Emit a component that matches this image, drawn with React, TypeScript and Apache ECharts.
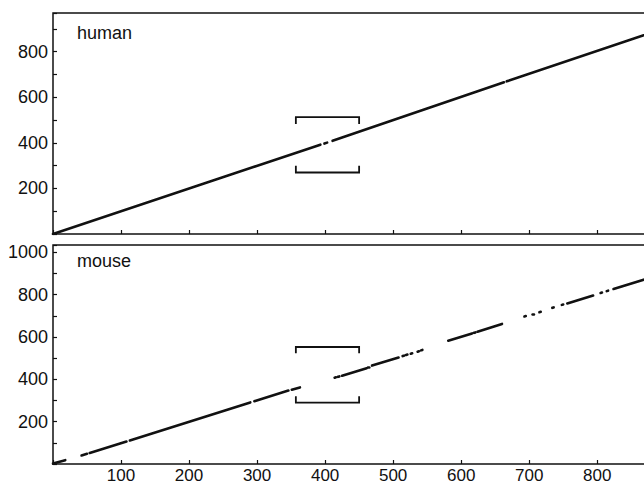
import React, { useEffect, useRef } from 'react';
import * as echarts from 'echarts';

// Panel names
const panelNames = ['human', 'mouse'];

// Axis ranges / ticks
const xMax = 882;
const humanYMax = 970;
const mouseYMax = 1035;
const tickStep = 100;
const xLabelValues = [100, 200, 300, 400, 500, 600, 700, 800];
const humanYLabelValues = [200, 400, 600, 800];
const mouseYLabelValues = [200, 400, 600, 800, 1000];

// Dot-plot segments: [x1, y1, x2, y2]
const humanSegments = [
  [0, 0, 393, 392],
  [399, 397, 403, 401],
  [411, 409, 663, 666],
  [667, 670, 882, 886],
];

const mouseSegments = [
  [0, 2, 18, 18],
  [42, 40, 50, 48],
  [54, 52, 108, 106],
  [113, 111, 290, 291],
  [296, 297, 346, 347],
  [351, 351, 363, 362],
  [414, 408, 416, 410],
  [419, 412, 421, 414],
  [425, 417, 461, 452],
  [463, 455, 465, 457],
  [469, 465, 508, 503],
  [514, 510, 516, 512],
  [519, 515, 521, 517],
  [526, 521, 528, 523],
  [536, 531, 538, 533],
  [541, 537, 543, 539],
  [581, 583, 616, 617],
  [619, 620, 621, 622],
  [624, 625, 660, 662],
  [693, 697, 695, 699],
  [705, 708, 707, 710],
  [715, 717, 717, 719],
  [734, 738, 736, 740],
  [748, 752, 750, 754],
  [756, 759, 794, 796],
  [805, 808, 807, 810],
  [814, 817, 816, 819],
  [824, 827, 882, 884],
];

// Brackets: x span, [lower, upper] y, tick length
const bracketX = [357, 450];
const humanBracketY = [270, 513];
const mouseBracketY = [290, 553];
const bracketTick = 30;

function segData(segs: number[][]) {
  return segs.map((s) => ({ coords: [[s[0], s[1]], [s[2], s[3]]] }));
}

function bracketData(xs: number[], ys: number[], t: number) {
  return [
    { coords: [[xs[0], ys[1] - t], [xs[0], ys[1]], [xs[1], ys[1]], [xs[1], ys[1] - t]] },
    { coords: [[xs[0], ys[0] + t], [xs[0], ys[0]], [xs[1], ys[0]], [xs[1], ys[0] + t]] },
  ];
}

const FONT = '"Liberation Sans", Arial, Helvetica, sans-serif';
const INK = '#111';

export default function App() {
  const ref = useRef<HTMLDivElement>(null);
  useEffect(() => {
    if (!ref.current) return;
    const chart = echarts.init(ref.current, null, { renderer: 'svg' });
    const xAxisBase = (gridIndex: number, showLabels: boolean) => ({
      type: 'value',
      gridIndex,
      min: 0,
      max: xMax,
      interval: tickStep,
      axisLine: { show: false },
      axisTick: { show: true, inside: true, length: 4, lineStyle: { color: INK, width: 1.2 } },
      splitLine: { show: false },
      axisLabel: {
        show: showLabels,
        color: INK,
        fontFamily: FONT,
        fontSize: 17,
        lineHeight: 16,
        margin: 3,
        formatter: (v: number) => (xLabelValues.includes(v) ? String(v) : ''),
      },
    });
    const yAxisBase = (gridIndex: number, max: number, labels: number[]) => ({
      type: 'value',
      gridIndex,
      min: 0,
      max,
      interval: tickStep,
      axisLine: { show: false },
      axisTick: { show: true, inside: true, length: 4, lineStyle: { color: INK, width: 1.2 } },
      splitLine: { show: false },
      axisLabel: {
        color: INK,
        fontFamily: FONT,
        fontSize: 18,
        margin: 5,
        formatter: (v: number) => (labels.includes(v) ? String(v) : ''),
      },
    });
    const gridStyle = {
      show: true,
      borderColor: INK,
      borderWidth: 1.5,
      backgroundColor: 'transparent',
      containLabel: false,
      outerBoundsMode: 'none',
    };
    const lineSeries = (idx: number, segs: number[][]) => ({
      type: 'lines',
      coordinateSystem: 'cartesian2d',
      xAxisIndex: idx,
      yAxisIndex: idx,
      polyline: false,
      silent: true,
      lineStyle: { color: INK, width: 2.6, opacity: 1, cap: 'round' },
      data: segData(segs),
    });
    const bracketSeries = (idx: number, ys: number[]) => ({
      type: 'lines',
      coordinateSystem: 'cartesian2d',
      xAxisIndex: idx,
      yAxisIndex: idx,
      polyline: true,
      silent: true,
      lineStyle: { color: INK, width: 1.8, opacity: 1 },
      data: bracketData(bracketX, ys, bracketTick),
    });
    chart.setOption({
      animation: false,
      backgroundColor: '#fff',
      grid: [
        { left: 53, top: 13, width: 600, height: 221, ...gridStyle },
        { left: 53, top: 245, width: 600, height: 219, ...gridStyle },
      ],
      xAxis: [xAxisBase(0, false), xAxisBase(1, true)],
      yAxis: [yAxisBase(0, humanYMax, humanYLabelValues), yAxisBase(1, mouseYMax, mouseYLabelValues)],
      graphic: [
        { type: 'text', left: 77, top: 24, style: { text: panelNames[0], fill: INK, font: `18px ${FONT}` } },
        { type: 'text', left: 77, top: 252, style: { text: panelNames[1], fill: INK, font: `18px ${FONT}` } },
      ],
      series: [
        lineSeries(0, humanSegments),
        bracketSeries(0, humanBracketY),
        lineSeries(1, mouseSegments),
        bracketSeries(1, mouseBracketY),
      ],
    });
    return () => chart.dispose();
  }, []);
  return (
    <div
      ref={ref}
      style={{ position: 'absolute', left: 0, top: 0, width: 644, height: 484 }}
    />
  );
}
